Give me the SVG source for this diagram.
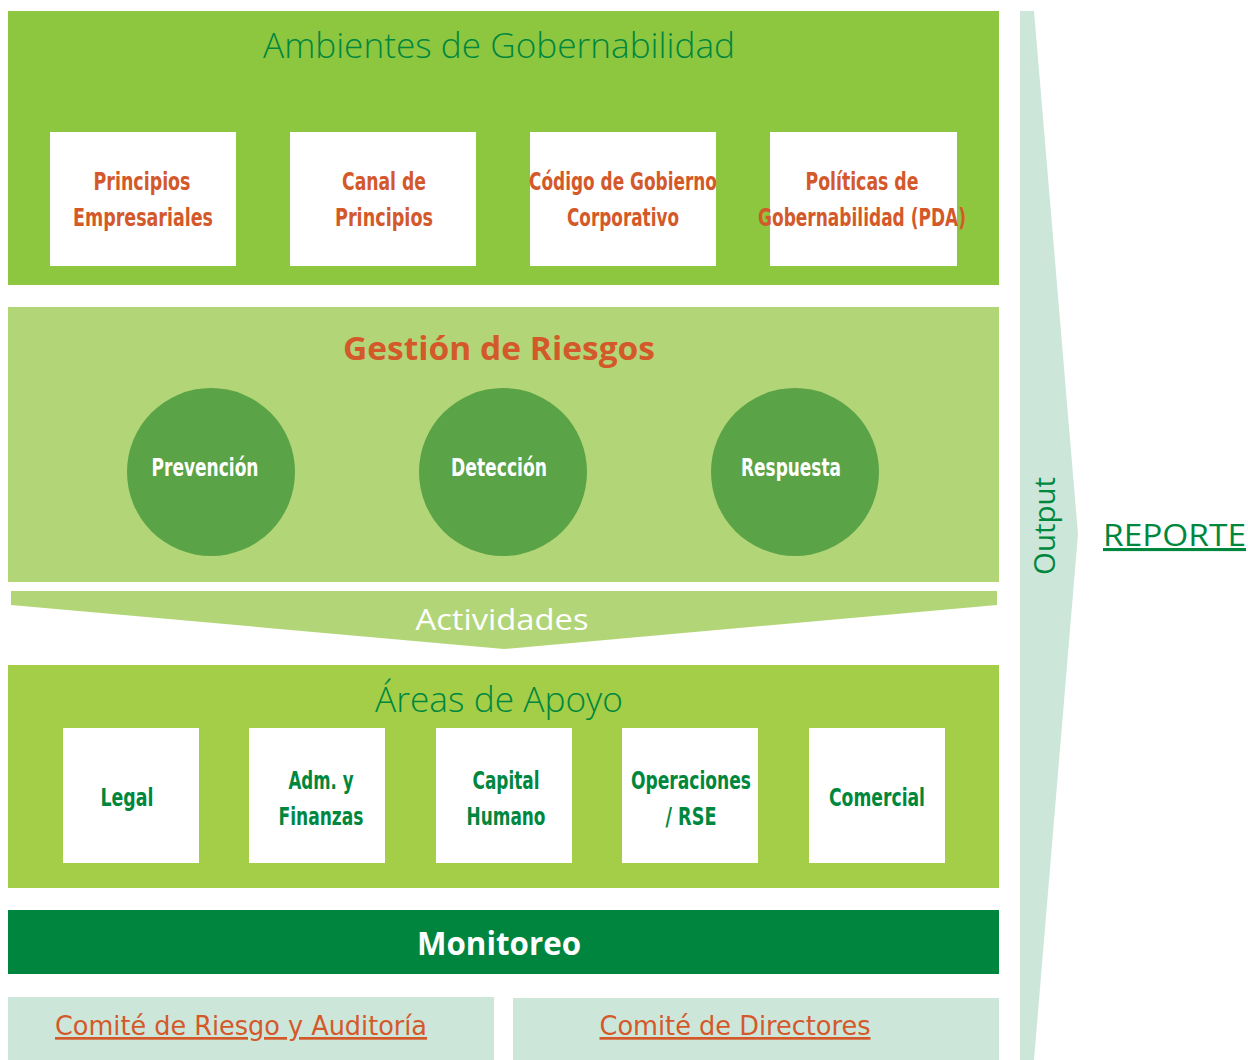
<svg xmlns="http://www.w3.org/2000/svg" width="1248" height="1060" viewBox="0 0 1248 1060">
<style>
.cond{font-family:"DejaVu Sans Condensed","DejaVu Sans",sans-serif;font-weight:bold;font-size:25px;text-anchor:middle}
.light{font-family:"Open Sans","DejaVu Sans",sans-serif;font-weight:300;text-anchor:middle}
.org{fill:#d4592a}
.grn{fill:#00873e}
.wht{fill:#ffffff}
.box{fill:#ffffff}
</style>
<rect width="1248" height="1060" fill="#ffffff"/>
<g id="output-arrow">
<polygon points="1020,11 1034,11 1078,534 1034,1060 1020,1060" fill="#cde6da"/>
<text transform="translate(1055,526) rotate(-90)" class="light grn" style="font-weight:400" font-size="30" textLength="98" lengthAdjust="spacingAndGlyphs">Output</text>
</g>
<g id="reporte">
<text x="1103" y="546" font-family="Open Sans, DejaVu Sans, sans-serif" font-size="31" fill="#00873e" text-decoration="underline" textLength="143" lengthAdjust="spacingAndGlyphs">REPORTE</text>
</g>
<g id="ambientes">
<rect x="8" y="11" width="991" height="274" fill="#8dc63f"/>
<text x="499" y="58" class="light grn" font-size="34" textLength="472" lengthAdjust="spacingAndGlyphs">Ambientes de Gobernabilidad</text>
</g>
<g id="principios-empresariales"><rect class="box" x="50" y="132" width="186" height="134"/><text class="cond org" x="142" y="190" textLength="97" lengthAdjust="spacingAndGlyphs">Principios</text><text class="cond org" x="143" y="226" textLength="140" lengthAdjust="spacingAndGlyphs">Empresariales</text></g>
<g id="canal-principios"><rect class="box" x="290" y="132" width="186" height="134"/><text class="cond org" x="384" y="190" textLength="84" lengthAdjust="spacingAndGlyphs">Canal de</text><text class="cond org" x="384" y="226" textLength="98" lengthAdjust="spacingAndGlyphs">Principios</text></g>
<g id="codigo-gobierno"><rect class="box" x="530" y="132" width="186" height="134"/><text class="cond org" x="623" y="190" textLength="188" lengthAdjust="spacingAndGlyphs">Código de Gobierno</text><text class="cond org" x="623" y="226" textLength="112" lengthAdjust="spacingAndGlyphs">Corporativo</text></g>
<g id="politicas"><rect class="box" x="770" y="132" width="187" height="134"/><text class="cond org" x="862" y="190" textLength="113" lengthAdjust="spacingAndGlyphs">Políticas de</text><text class="cond org" x="862" y="226" textLength="208" lengthAdjust="spacingAndGlyphs">Gobernabilidad (PDA)</text></g>
<g id="gestion">
<rect x="8" y="307" width="991" height="275" fill="#b2d677"/>
<text x="499" y="360" font-family="Open Sans, DejaVu Sans, sans-serif" font-weight="bold" font-size="33" fill="#d4592a" text-anchor="middle" textLength="312" lengthAdjust="spacingAndGlyphs">Gestión de Riesgos</text>
</g>
<g id="prevencion"><circle cx="211" cy="472" r="84" fill="#5aa346"/><text class="cond wht" x="205" y="476" textLength="107" lengthAdjust="spacingAndGlyphs">Prevención</text></g>
<g id="deteccion"><circle cx="503" cy="472" r="84" fill="#5aa346"/><text class="cond wht" x="499" y="476" textLength="96" lengthAdjust="spacingAndGlyphs">Detección</text></g>
<g id="respuesta"><circle cx="795" cy="472" r="84" fill="#5aa346"/><text class="cond wht" x="791" y="476" textLength="100" lengthAdjust="spacingAndGlyphs">Respuesta</text></g>
<g id="actividades">
<polygon points="11,591 997,591 997,605 504,649 11,605" fill="#b2d677"/>
<text x="502" y="630" class="light wht" style="font-weight:400" font-size="30" textLength="173" lengthAdjust="spacingAndGlyphs">Actividades</text>
</g>
<g id="areas">
<rect x="8" y="665" width="991" height="223" fill="#a4cd48"/>
<text x="499" y="712" class="light grn" font-size="34" textLength="248" lengthAdjust="spacingAndGlyphs">Áreas de Apoyo</text>
</g>
<g id="legal"><rect class="box" x="63" y="728" width="136" height="135"/><text class="cond grn" x="127" y="806" textLength="53" lengthAdjust="spacingAndGlyphs">Legal</text></g>
<g id="adm-finanzas"><rect class="box" x="249" y="728" width="136" height="135"/><text class="cond grn" x="321" y="789" textLength="65" lengthAdjust="spacingAndGlyphs">Adm. y</text><text class="cond grn" x="321" y="825" textLength="85" lengthAdjust="spacingAndGlyphs">Finanzas</text></g>
<g id="capital-humano"><rect class="box" x="436" y="728" width="136" height="135"/><text class="cond grn" x="506" y="789" textLength="67" lengthAdjust="spacingAndGlyphs">Capital</text><text class="cond grn" x="506" y="825" textLength="79" lengthAdjust="spacingAndGlyphs">Humano</text></g>
<g id="operaciones"><rect class="box" x="622" y="728" width="136" height="135"/><text class="cond grn" x="691" y="789" textLength="120" lengthAdjust="spacingAndGlyphs">Operaciones</text><text class="cond grn" x="691" y="825" textLength="51" lengthAdjust="spacingAndGlyphs">/ RSE</text></g>
<g id="comercial"><rect class="box" x="809" y="728" width="136" height="135"/><text class="cond grn" x="877" y="806" textLength="96" lengthAdjust="spacingAndGlyphs">Comercial</text></g>
<g id="monitoreo">
<rect x="8" y="910" width="991" height="64" fill="#00853f"/>
<text x="499" y="955" font-family="Open Sans, DejaVu Sans, sans-serif" font-weight="bold" font-size="32" fill="#ffffff" text-anchor="middle" textLength="164" lengthAdjust="spacingAndGlyphs">Monitoreo</text>
</g>
<g id="comite-riesgo">
<rect x="8" y="997" width="486" height="63" fill="#cde6da"/>
<text x="241" y="1035" font-family="DejaVu Sans Condensed, DejaVu Sans, sans-serif" font-size="27" fill="#d4592a" text-anchor="middle" text-decoration="underline" textLength="372" lengthAdjust="spacingAndGlyphs">Comité de Riesgo y Auditoría</text>
</g>
<g id="comite-directores">
<rect x="513" y="998" width="486" height="62" fill="#cde6da"/>
<text x="735" y="1035" font-family="DejaVu Sans Condensed, DejaVu Sans, sans-serif" font-size="27" fill="#d4592a" text-anchor="middle" text-decoration="underline" textLength="271" lengthAdjust="spacingAndGlyphs">Comité de Directores</text>
</g>
<g id="connectors"></g>
</svg>
